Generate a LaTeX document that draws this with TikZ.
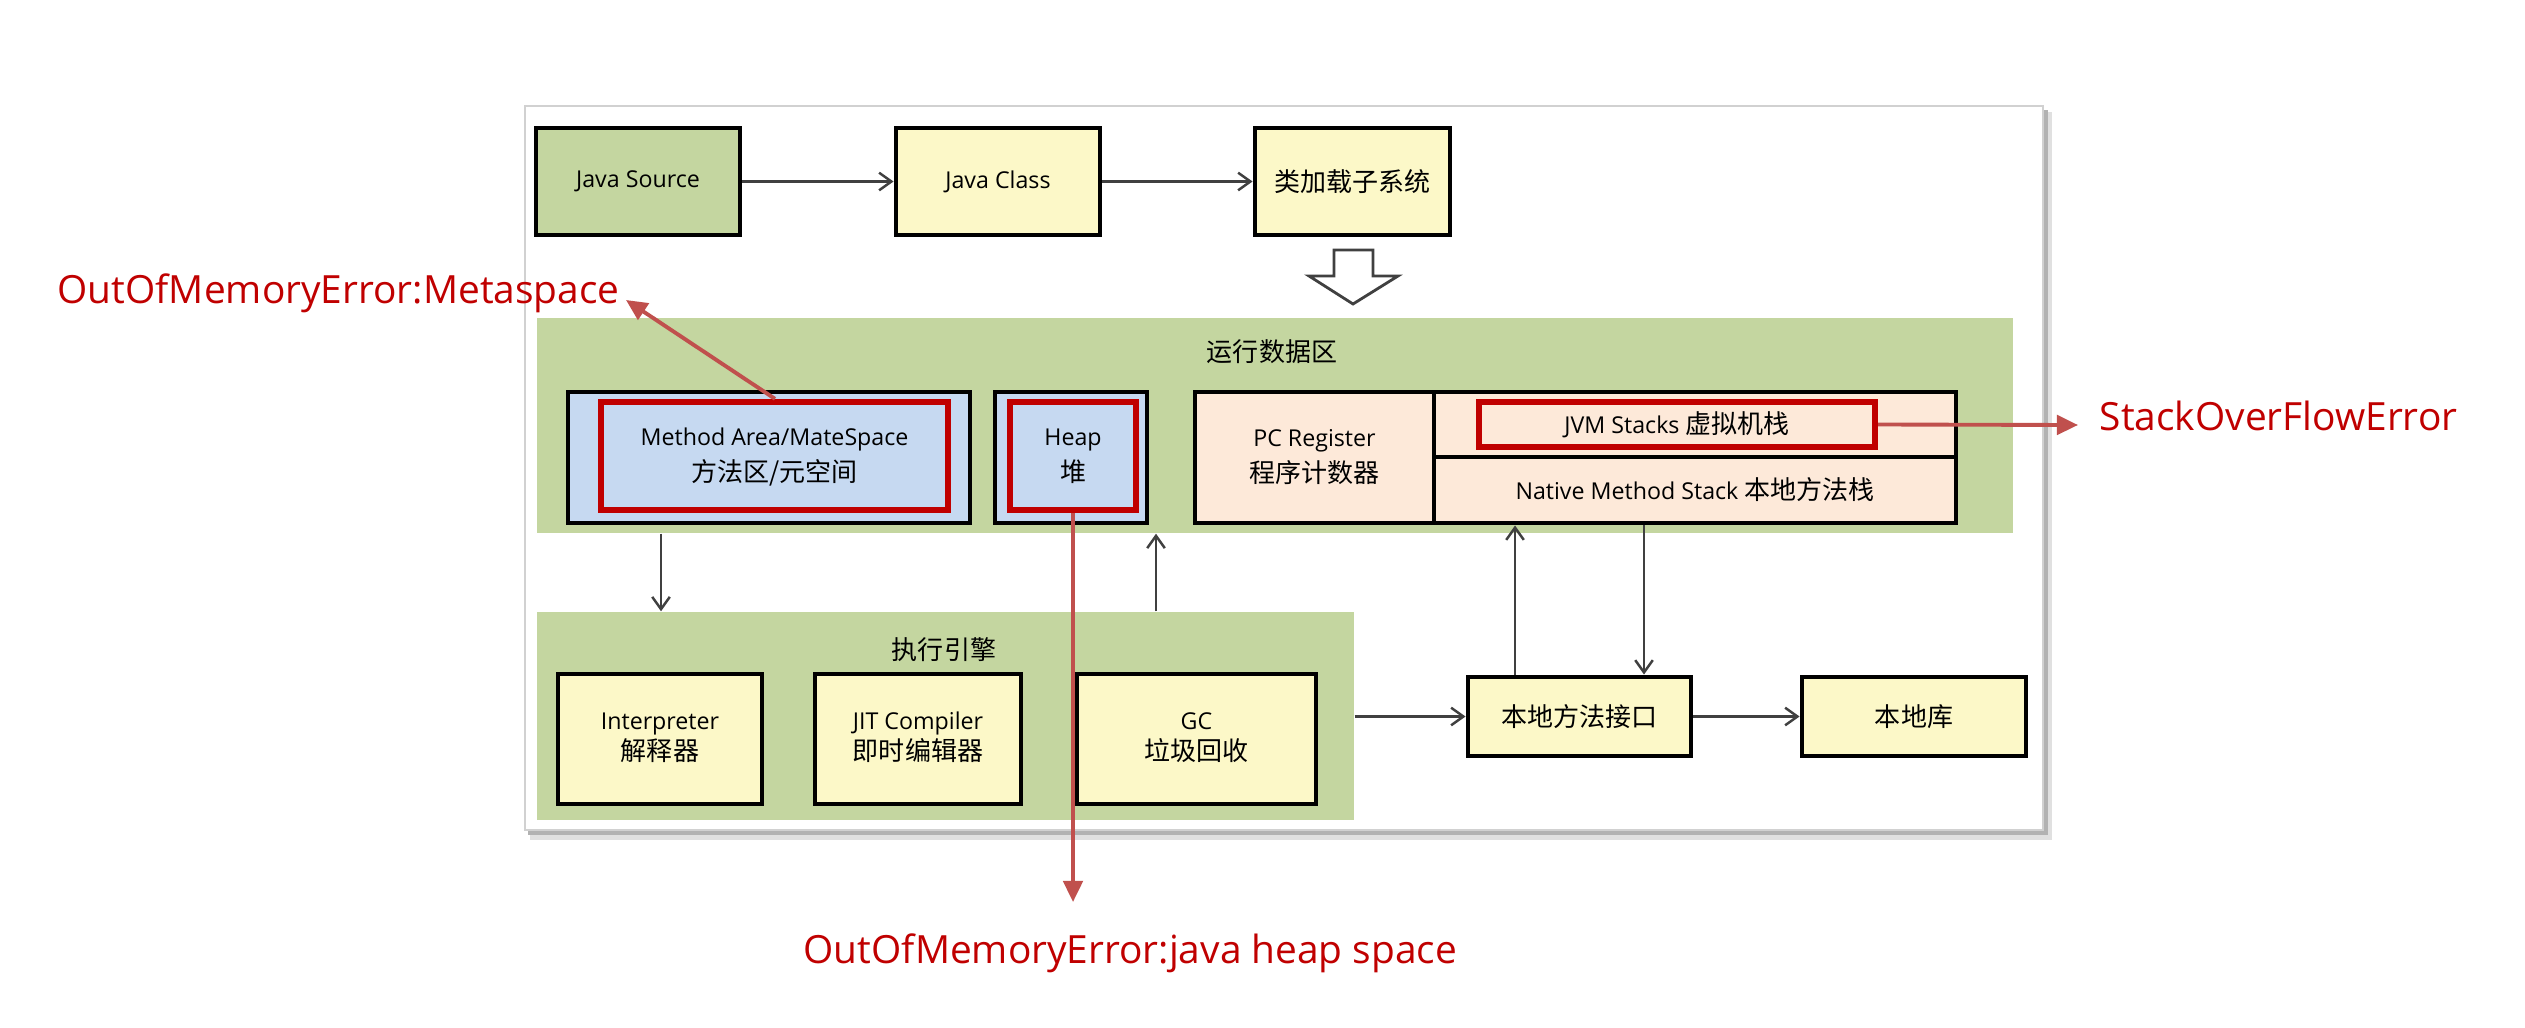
\documentclass[tikz,border=0pt]{standalone}
\usepackage{fontspec}
\setmainfont{Open Sans}
\newfontfamily\cjkf{Noto Sans CJK SC}
\newcommand\zh[1]{{\cjkf\fontsize{7.4}{9}\selectfont #1}}
\newcommand\twolines[2]{\begin{tabular}{@{}c@{}}#1\\#2\end{tabular}}
\usetikzlibrary{arrows.meta}
\definecolor{cOlive}{RGB}{196,214,160}
\definecolor{cYel}{RGB}{252,248,200}
\definecolor{cBlue}{RGB}{198,217,241}
\definecolor{cPink}{RGB}{253,233,217}
\definecolor{cLine}{RGB}{64,64,64}
\definecolor{cRedB}{RGB}{192,0,0}
\definecolor{cRedA}{RGB}{192,80,77}
\definecolor{cRedT}{RGB}{192,0,0}
\begin{document}
\begin{tikzpicture}[x=0.01cm,y=-0.01cm,
  sz/.style 2 args={minimum width=#1*0.01cm,minimum height=#2*0.01cm},
  bx/.style={draw=black,line width=1.4pt,inner sep=0pt,font=\fontsize{6.6}{10.2}\selectfont},
  bxe/.style={bx,font=\fontsize{6.6}{8.8}\selectfont},
  rbx/.style={draw=cRedB,line width=1.8pt,inner sep=0pt,font=\fontsize{6.6}{10.2}\selectfont},
  cont/.style={fill=cOlive,draw=none,inner sep=0pt},
  ttl/.style={inner sep=0pt},
  conn/.style={draw=cLine,line width=0.7pt,-{Straight Barb[length=3.5pt,width=5pt]}},
  rarr/.style={draw=cRedA,line width=1.1pt,-{Triangle[length=6pt,width=5.5pt]}},
  rtxt/.style={inner sep=0pt,text=cRedT,font=\fontsize{11.05}{13}\selectfont}]
\useasboundingbox (0,0) rectangle (2525,1027);
\fill[white] (0,0) rectangle (2525,1027);
% slide panel with shadow
\fill[black!12] (530,112) rectangle (2052,840);
\fill[black!30] (528,110) rectangle (2048,835);
\fill[white] (525,106) rectangle (2043,830);
\draw[black!18,line width=0.4pt] (525,106) rectangle (2043,830);

% containers
\node[cont,sz={1476}{215}] (rda) at (1275,425.5) {};
\node[ttl] (rdaT) at (1272,352) {\zh{运行数据区}};
\node[cont,sz={817}{208}] (exe) at (945.5,716) {};
\node[ttl] (exeT) at (944,650) {\zh{执行引擎}};

% top row
\node[bx,fill=cOlive,sz={204}{107}] (js) at (638,181.5) {Java Source};
\node[bx,fill=cYel,sz={204}{107}] (jc) at (998,181.5) {Java Class};
\node[bx,fill=cYel,sz={195}{107}] (cl) at (1352.5,181.5) {\zh{类加载子系统}};

% hollow arrow
\draw[draw=cLine,fill=white,line width=0.8pt,line join=miter]
  (1334,250) -- (1373,250) -- (1373,276) -- (1398,276) -- (1353,304) -- (1309,276) -- (1334,276) -- cycle;

% runtime data area
\node[bx,fill=cBlue,sz={402}{131}] (ma) at (769,457.5) {};
\node[rbx,sz={347}{108}] (mared) at (774.5,456) {\twolines{Method Area/MateSpace}{\zh{方法区/元空间}}};
\node[bx,fill=cBlue,sz={152}{131}] (hp) at (1071,457.5) {};
\node[rbx,sz={126}{108}] (hpred) at (1073,456) {\twolines{Heap}{\zh{堆}}};
\node[bx,fill=cPink,sz={239}{131}] (pc) at (1314.5,457.5) {\twolines{PC Register}{\zh{程序计数器}}};
\node[bx,fill=cPink,sz={522}{65}] (jvm) at (1695,424.5) {};
\node[bx,fill=cPink,sz={522}{66}] (nat) at (1695,490) {Native Method Stack \zh{本地方法栈}};
\node[rbx,sz={396}{45}] (jvmred) at (1677,424.5) {JVM Stacks \zh{虚拟机栈}};

% execution engine
\node[bxe,fill=cYel,sz={204}{130}] (interp) at (660,739) {\twolines{Interpreter}{\zh{解释器}}};
\node[bxe,fill=cYel,sz={206}{130}] (jit) at (918,739) {\twolines{JIT Compiler}{\zh{即时编辑器}}};
\node[bxe,fill=cYel,sz={239}{130}] (gc) at (1196.5,739) {\twolines{GC}{\zh{垃圾回收}}};

% native
\node[bx,fill=cYel,sz={223}{79}] (nmi) at (1579.5,716.5) {\zh{本地方法接口}};
\node[bx,fill=cYel,sz={224}{79}] (lib) at (1914,716.5) {\zh{本地库}};

% connectors
\coordinate (xa) at (661,0);
\coordinate (xb) at (1156,0);
\coordinate (xc) at (1515,0);
\coordinate (xd) at (1644,0);
\coordinate (xe) at (775,0);
\draw[conn] (js.east) -- (jc.west);
\draw[conn] (jc.east) -- (cl.west);
\draw[conn] (rda.south -| xa) -- (exe.north -| xa);
\draw[conn] (exe.north -| xb) -- (rda.south -| xb);
\draw[conn] (exe.east |- nmi.west) -- (nmi.west);
\draw[conn] (nmi.east) -- (lib.west);
\draw[conn] (nmi.north -| xc) -- (nat.south -| xc);
\draw[conn] (nat.south -| xd) -- (nmi.north -| xd);

% error labels
\node[rtxt,anchor=base west] (tmeta) at (57,303) {OutOfMemoryError:Metaspace};
\node[rtxt,anchor=base west] (tsof) at (2099,430) {StackOverFlowError};
\node[rtxt,anchor=base west] (theap) at (803,963) {OutOfMemoryError:java heap space};
\coordinate (pMeta) at (626,300);
\coordinate (pSof) at (2078,425);
\coordinate (pHeap) at (1076,902);
\draw[rarr] (mared.north -| xe) -- (pMeta);
\draw[rarr] (jvmred.east) -- (pSof);
\draw[rarr] (hpred.south) -- (hpred.south |- pHeap);
\end{tikzpicture}
\end{document}
